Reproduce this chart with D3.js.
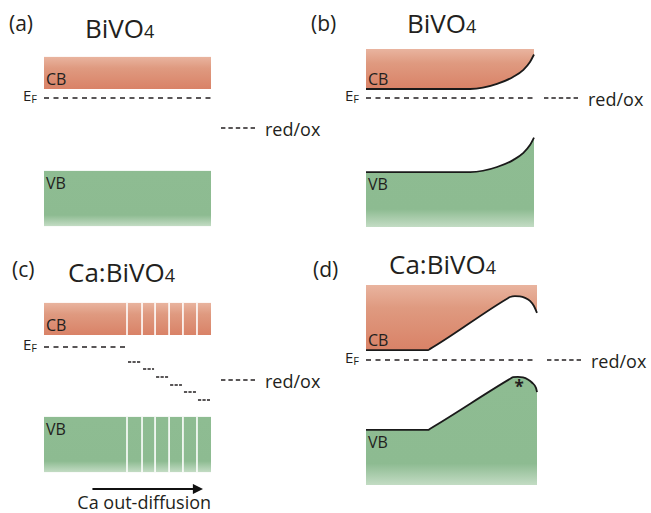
<!DOCTYPE html>
<html>
<head>
<meta charset="utf-8">
<script src="https://cdn.jsdelivr.net/npm/d3@7"></script>
<style>
  body { margin: 0; background: #fff; }
  text { font-family: "Open Sans", sans-serif; fill: #231f20; }
</style>
</head>
<body>
<div id="chart-area"></div>
<script>
var width = 651, height = 513;
var unit = 30; // px per energy unit

// ---- data (energies relative to E_F, arbitrary units) ----
// (a) flat bands: [CB top, CB edge, VB edge, VB bottom]
var bandsA = [1.37, 0.3, -2.43, -4.27];
var redoxA = -1.0;

// (b) band bending at the surface
var depthB = [0, 0.62, 0.78, 0.875, 0.935, 0.976, 1];
var cbB = [0.3, 0.3, 0.47, 0.7, 0.93, 1.2, 1.45];
var vbB = [-2.47, -2.47, -2.3, -2.07, -1.84, -1.57, -1.32];
var limitsB = [1.63, -4.3]; // CB top, VB bottom
var redoxB = 0;

// (c) Ca gradient, stepped Fermi level
var bandsC = [1.47, 0.4, -2.33, -4.17];
var stepsC = [0.497, 0.587, 0.665, 0.749, 0.832, 0.916, 1];
var efStepsC = [-0.5, -0.73, -1.0, -1.27, -1.5, -1.77];
var redoxC = -1.1;

// (d) graded bands after equilibration
var depthCbD = [0, 0.363, 0.375, 0.83, 0.842, 0.871, 0.9, 0.93, 0.959, 0.982, 1];
var cbD = [0.33, 0.33, 0.37, 2.06, 2.1, 2.13, 2.12, 2.07, 1.97, 1.8, 1.57];
var depthVbD = [0, 0.363, 0.375, 0.848, 0.86, 0.888, 0.918, 0.947, 0.97, 0.994, 1];
var vbD = [-2.33, -2.33, -2.29, -0.61, -0.57, -0.56, -0.58, -0.65, -0.75, -0.93, -1.07];
var limitsD = [2.5, -4.17];
var redoxD = 0;

// ---- layout ----
var panels = {
  a: { x: [44, 211], ef: 98 },
  b: { x: [366, 534], ef: 98 },
  c: { x: [44, 211], ef: 347 },
  d: { x: [366, 537], ef: 360 }
};

var svg = d3.select("#chart-area")
  .append("svg")
    .attr("width", width)
    .attr("height", height);

svg.append("rect").attr("width", width).attr("height", height).attr("fill", "#fff");

// gradients
var defs = svg.append("defs");
var cbGrad = defs.append("linearGradient").attr("id", "cbGrad")
  .attr("x1", 0).attr("y1", 0).attr("x2", 0).attr("y2", 1);
cbGrad.append("stop").attr("offset", "0%").attr("stop-color", "#e9b49f");
cbGrad.append("stop").attr("offset", "35%").attr("stop-color", "#df9a80");
cbGrad.append("stop").attr("offset", "100%").attr("stop-color", "#d98267");
var vbGrad = defs.append("linearGradient").attr("id", "vbGrad")
  .attr("x1", 0).attr("y1", 0).attr("x2", 0).attr("y2", 1);
vbGrad.append("stop").attr("offset", "0%").attr("stop-color", "#8ebc92");
vbGrad.append("stop").attr("offset", "80%").attr("stop-color", "#8dbb91");
vbGrad.append("stop").attr("offset", "100%").attr("stop-color", "#c3dcc4");

function scales(p) {
  return {
    x: d3.scaleLinear().domain([0, 1]).range(p.x),
    y: d3.scaleLinear().domain([0, 1]).range([p.ef, p.ef - unit])
  };
}

function dashed(g, x1, x2, y, dash) {
  g.append("line")
    .attr("x1", x1).attr("x2", x2)
    .attr("y1", y).attr("y2", y)
    .attr("stroke", "#231f20")
    .attr("stroke-width", 1.5)
    .attr("stroke-dasharray", dash);
}

function efLabel(g, s) {
  var t = g.append("text")
    .attr("x", s.x(0) - 21)
    .attr("y", s.y(0) + 3)
    .attr("font-size", "15px")
    .text("E");
  t.append("tspan").attr("font-size", "11px").attr("dy", 2).text("F");
}

function bandLabels(g, s, cbEdge, vbEdge) {
  g.append("text").attr("x", s.x(0) + 2).attr("y", s.y(cbEdge) - 4)
    .attr("font-size", "16px").text("CB");
  g.append("text").attr("x", s.x(0) + 2).attr("y", s.y(vbEdge) + 18)
    .attr("font-size", "16px").text("VB");
}

function redox(g, s, e) {
  var y = s.y(e);
  dashed(g, s.x(1) + 10, s.x(1) + 46, y, "4.4,3");
  g.append("text").attr("x", s.x(1) + 54).attr("y", y + 8)
    .attr("font-size", "18px").text("red/ox");
}

function title(g, x, y, pre) {
  var t = g.append("text").attr("x", x).attr("y", y).attr("font-size", "26px").text(pre + "BiVO");
  t.append("tspan").attr("font-size", "18px").attr("dy", 0).text("4");
}

function letter(g, x, y, s) {
  g.append("text").attr("x", x).attr("y", y).attr("font-size", "21px").text(s);
}

// ---------- (a) ----------
(function() {
  var s = scales(panels.a), g = svg.append("g");
  g.append("rect").attr("x", s.x(0)).attr("width", s.x(1) - s.x(0))
    .attr("y", s.y(bandsA[0])).attr("height", s.y(bandsA[1]) - s.y(bandsA[0]))
    .attr("fill", "url(#cbGrad)");
  g.append("rect").attr("x", s.x(0)).attr("width", s.x(1) - s.x(0))
    .attr("y", s.y(bandsA[2])).attr("height", s.y(bandsA[3]) - s.y(bandsA[2]))
    .attr("fill", "url(#vbGrad)");
  dashed(g, s.x(0), s.x(1), s.y(0), "5,4.5");
  efLabel(g, s);
  bandLabels(g, s, bandsA[1], bandsA[2]);
  redox(g, s, redoxA);
  letter(g, 9, 31, "(a)");
  title(g, 85, 38, "");
})();

// ---------- (b) ----------
(function() {
  var s = scales(panels.b), g = svg.append("g");
  var cb = depthB.map(function(d, i) { return { d: d, e: cbB[i] }; });
  var vb = depthB.map(function(d, i) { return { d: d, e: vbB[i] }; });
  var area = d3.area().curve(d3.curveMonotoneX).x(function(d) { return s.x(d.d); });
  var line = d3.line().curve(d3.curveMonotoneX)
    .x(function(d) { return s.x(d.d); })
    .y(function(d) { return s.y(d.e); });
  g.append("path").attr("fill", "url(#cbGrad)")
    .attr("d", area.y0(s.y(limitsB[0])).y1(function(d) { return s.y(d.e); })(cb));
  g.append("path").attr("fill", "url(#vbGrad)")
    .attr("d", area.y0(s.y(limitsB[1])).y1(function(d) { return s.y(d.e); })(vb));
  g.append("path").attr("fill", "none").attr("stroke", "#1a1a1a").attr("stroke-width", 1.8).attr("d", line(cb));
  g.append("path").attr("fill", "none").attr("stroke", "#1a1a1a").attr("stroke-width", 1.8).attr("d", line(vb));
  dashed(g, s.x(0), s.x(1), s.y(0), "5,4.5");
  efLabel(g, s);
  bandLabels(g, s, cbB[0], vbB[0]);
  redox(g, s, redoxB);
  letter(g, 311, 31, "(b)");
  title(g, 407, 33, "");
})();

// ---------- (c) ----------
(function() {
  var s = scales(panels.c), g = svg.append("g");
  g.append("rect").attr("x", s.x(0)).attr("width", s.x(1) - s.x(0))
    .attr("y", s.y(bandsC[0])).attr("height", s.y(bandsC[1]) - s.y(bandsC[0]))
    .attr("fill", "url(#cbGrad)");
  g.append("rect").attr("x", s.x(0)).attr("width", s.x(1) - s.x(0))
    .attr("y", s.y(bandsC[2])).attr("height", s.y(bandsC[3]) - s.y(bandsC[2]))
    .attr("fill", "url(#vbGrad)");
  // white separators between the Ca-gradient slices
  stepsC.slice(0, -1).forEach(function(b) {
    [[bandsC[0], bandsC[1]], [bandsC[2], bandsC[3]]].forEach(function(r) {
      g.append("line").attr("x1", s.x(b)).attr("x2", s.x(b))
        .attr("y1", s.y(r[0])).attr("y2", s.y(r[1]))
        .attr("stroke", "#fff").attr("stroke-width", 1.6);
    });
  });
  dashed(g, s.x(0), s.x(stepsC[0]), s.y(0), "5,4.5");
  efStepsC.forEach(function(e, i) {
    dashed(g, s.x(stepsC[i]) + 1, s.x(stepsC[i + 1]) - 1, s.y(e), "3.2,1.3");
  });
  efLabel(g, s);
  bandLabels(g, s, bandsC[1], bandsC[2]);
  redox(g, s, redoxC);
  letter(g, 12, 277, "(c)");
  title(g, 68, 282, "Ca:");

  // Ca out-diffusion arrow
  defs.append("marker").attr("id", "arrow")
    .attr("viewBox", "0 0 10 10").attr("refX", 8).attr("refY", 5)
    .attr("markerWidth", 6).attr("markerHeight", 4.6).attr("orient", "auto")
    .append("path").attr("d", "M0,0L10,5L0,10z").attr("fill", "#111");
  g.append("line").attr("x1", s.x(0.29)).attr("x2", s.x(0.94))
    .attr("y1", 489).attr("y2", 489)
    .attr("stroke", "#111").attr("stroke-width", 2.2)
    .attr("marker-end", "url(#arrow)");
  g.append("text").attr("x", s.x(0.6)).attr("y", 509).attr("text-anchor", "middle")
    .attr("font-size", "18px").text("Ca out-diffusion");
})();

// ---------- (d) ----------
(function() {
  var s = scales(panels.d), g = svg.append("g");
  var cb = depthCbD.map(function(d, i) { return { d: d, e: cbD[i] }; });
  var vb = depthVbD.map(function(d, i) { return { d: d, e: vbD[i] }; });
  var area = d3.area().curve(d3.curveMonotoneX).x(function(d) { return s.x(d.d); });
  var line = d3.line().curve(d3.curveMonotoneX)
    .x(function(d) { return s.x(d.d); })
    .y(function(d) { return s.y(d.e); });
  g.append("path").attr("fill", "url(#cbGrad)")
    .attr("d", area.y0(s.y(limitsD[0])).y1(function(d) { return s.y(d.e); })(cb));
  g.append("path").attr("fill", "url(#vbGrad)")
    .attr("d", area.y0(s.y(limitsD[1])).y1(function(d) { return s.y(d.e); })(vb));
  g.append("path").attr("fill", "none").attr("stroke", "#1a1a1a").attr("stroke-width", 1.8).attr("d", line(cb));
  g.append("path").attr("fill", "none").attr("stroke", "#1a1a1a").attr("stroke-width", 1.8).attr("d", line(vb));
  dashed(g, s.x(0), s.x(1), s.y(0), "5,4.5");
  efLabel(g, s);
  bandLabels(g, s, cbD[0], vbD[0]);
  redox(g, s, redoxD);
  g.append("text").attr("x", s.x(0.895)).attr("y", s.y(-0.56) + 16)
    .attr("text-anchor", "middle").attr("font-size", "17px").attr("font-weight", "bold").text("*");
  letter(g, 313, 277, "(d)");
  title(g, 389, 274, "Ca:");
})();
</script>
</body>
</html>
